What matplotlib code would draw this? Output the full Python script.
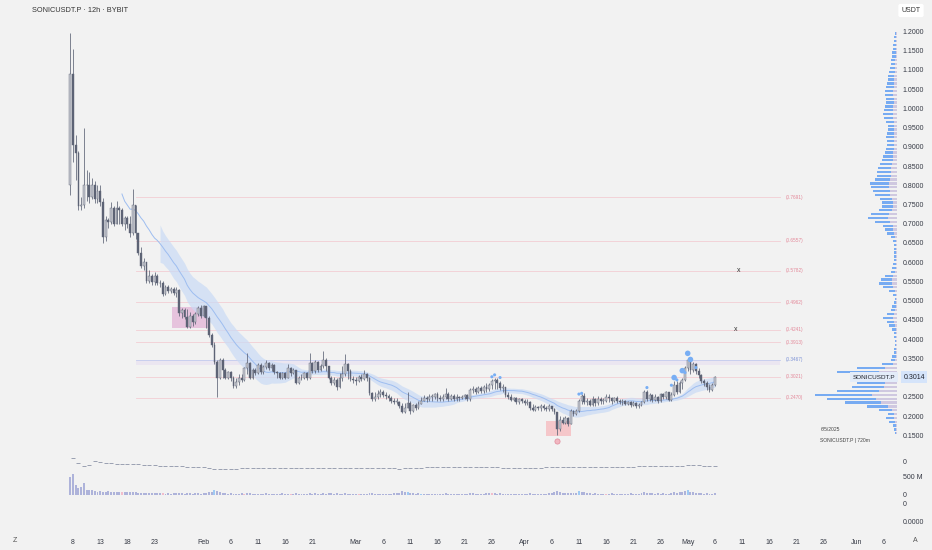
import numpy as np
import pandas as pd
import matplotlib
matplotlib.use("Agg")
import matplotlib.pyplot as plt
from matplotlib.patches import Rectangle

plt.rcParams['font.family'] = ['Liberation Sans', 'DejaVu Sans']

# ---------------- data ----------------
title_text = "SONICUSDT.P · 12h · BYBIT"
start_time = "2025-01-07 12:00"
first_open = 0.80

closes = [
    1.09, 0.905, 0.885, 0.745, 0.75, 0.80, 0.80, 0.77, 0.80, 0.765,
    0.785, 0.757, 0.665, 0.71, 0.705, 0.74, 0.70, 0.74, 0.735, 0.70,
    0.715, 0.70, 0.676, 0.749, 0.676, 0.624, 0.59, 0.60, 0.55, 0.565,
    0.548, 0.565, 0.545, 0.545, 0.518, 0.535, 0.525, 0.53, 0.52, 0.528,
    0.468, 0.476, 0.458, 0.432, 0.46, 0.445, 0.465, 0.48, 0.46, 0.485,
    0.455, 0.41, 0.385, 0.34, 0.30, 0.345, 0.32, 0.30, 0.315, 0.298,
    0.278, 0.288, 0.30, 0.294, 0.324, 0.337, 0.298, 0.32, 0.311, 0.333,
    0.315, 0.328, 0.337, 0.325, 0.333, 0.315, 0.311, 0.298, 0.311, 0.30,
    0.324, 0.311, 0.319, 0.287, 0.298, 0.30, 0.311, 0.298, 0.337, 0.318,
    0.34, 0.32, 0.33, 0.346, 0.33, 0.30, 0.285, 0.294, 0.275, 0.30,
    0.31, 0.335, 0.317, 0.297, 0.293, 0.29, 0.302, 0.295, 0.31, 0.298,
    0.259, 0.243, 0.25, 0.258, 0.262, 0.255, 0.252, 0.246, 0.24, 0.237,
    0.237, 0.225, 0.21, 0.222, 0.233, 0.212, 0.228, 0.22, 0.232, 0.24,
    0.246, 0.243, 0.25, 0.25, 0.256, 0.248, 0.244, 0.25, 0.258, 0.245,
    0.252, 0.245, 0.25, 0.246, 0.25, 0.254, 0.244, 0.268, 0.27, 0.262,
    0.272, 0.265, 0.276, 0.27, 0.281, 0.29, 0.294, 0.285, 0.272, 0.275,
    0.255, 0.25, 0.242, 0.246, 0.237, 0.244, 0.24, 0.233, 0.236, 0.22,
    0.216, 0.224, 0.22, 0.226, 0.222, 0.218, 0.226, 0.219, 0.21, 0.165,
    0.19, 0.183, 0.195, 0.18, 0.212, 0.205, 0.214, 0.24, 0.252, 0.236,
    0.24, 0.228, 0.244, 0.233, 0.245, 0.24, 0.24, 0.25, 0.246, 0.238,
    0.246, 0.24, 0.236, 0.24, 0.232, 0.236, 0.229, 0.233, 0.226, 0.228,
    0.237, 0.263, 0.245, 0.255, 0.242, 0.25, 0.238, 0.256, 0.25, 0.262,
    0.242, 0.255, 0.281, 0.262, 0.286, 0.294, 0.324, 0.346, 0.32, 0.335,
    0.318, 0.307, 0.29, 0.285, 0.275, 0.268, 0.28, 0.3014,
]
highs = [
    1.195, 1.154, 0.93, 0.89, 0.77, 0.95, 0.84, 0.835, 0.82, 0.81,
    0.80, 0.80, 0.767, 0.72, 0.715, 0.757, 0.745, 0.76, 0.745, 0.74,
    0.72, 0.72, 0.72, 0.79, 0.75, 0.676, 0.64, 0.61, 0.60, 0.58,
    0.57, 0.575, 0.57, 0.555, 0.55, 0.54, 0.54, 0.535, 0.535, 0.535,
    0.53, 0.48, 0.48, 0.478, 0.47, 0.465, 0.47, 0.485, 0.488, 0.49,
    0.485, 0.46, 0.416, 0.392, 0.346, 0.352, 0.35, 0.325, 0.318, 0.316,
    0.303, 0.30, 0.308, 0.31, 0.328, 0.363, 0.34, 0.325, 0.325, 0.338,
    0.337, 0.332, 0.346, 0.34, 0.338, 0.336, 0.318, 0.315, 0.315, 0.315,
    0.335, 0.328, 0.325, 0.32, 0.305, 0.31, 0.315, 0.315, 0.363, 0.34,
    0.345, 0.343, 0.336, 0.369, 0.35, 0.33, 0.305, 0.302, 0.298, 0.312,
    0.33, 0.361, 0.338, 0.322, 0.305, 0.302, 0.306, 0.31, 0.32, 0.312,
    0.302, 0.262, 0.262, 0.268, 0.27, 0.268, 0.262, 0.258, 0.252, 0.248,
    0.248, 0.24, 0.234, 0.235, 0.263, 0.24, 0.232, 0.235, 0.24, 0.25,
    0.255, 0.252, 0.256, 0.258, 0.26, 0.262, 0.255, 0.258, 0.272, 0.262,
    0.258, 0.256, 0.256, 0.253, 0.255, 0.258, 0.258, 0.272, 0.278, 0.275,
    0.278, 0.278, 0.28, 0.285, 0.285, 0.295, 0.30, 0.298, 0.292, 0.283,
    0.276, 0.262, 0.258, 0.25, 0.25, 0.248, 0.246, 0.245, 0.245, 0.24,
    0.232, 0.228, 0.226, 0.23, 0.23, 0.226, 0.23, 0.227, 0.22, 0.21,
    0.20, 0.198, 0.20, 0.198, 0.218, 0.215, 0.218, 0.245, 0.258, 0.26,
    0.248, 0.244, 0.252, 0.248, 0.252, 0.25, 0.248, 0.258, 0.256, 0.25,
    0.25, 0.252, 0.245, 0.244, 0.242, 0.24, 0.238, 0.238, 0.236, 0.235,
    0.24, 0.268, 0.268, 0.26, 0.258, 0.256, 0.252, 0.26, 0.26, 0.266,
    0.252, 0.262, 0.29, 0.29, 0.29, 0.30, 0.33, 0.352, 0.34, 0.34,
    0.338, 0.325, 0.31, 0.295, 0.29, 0.282, 0.285, 0.305,
]
lows = [
    0.775, 0.86, 0.815, 0.735, 0.735, 0.74, 0.76, 0.755, 0.765, 0.755,
    0.755, 0.745, 0.65, 0.655, 0.69, 0.70, 0.695, 0.70, 0.70, 0.695,
    0.685, 0.69, 0.665, 0.67, 0.66, 0.62, 0.585, 0.58, 0.545, 0.545,
    0.54, 0.54, 0.54, 0.535, 0.512, 0.515, 0.52, 0.52, 0.515, 0.51,
    0.46, 0.455, 0.452, 0.43, 0.43, 0.435, 0.44, 0.46, 0.455, 0.458,
    0.43, 0.405, 0.38, 0.335, 0.25, 0.295, 0.30, 0.295, 0.295, 0.292,
    0.272, 0.272, 0.28, 0.288, 0.29, 0.31, 0.295, 0.295, 0.306, 0.308,
    0.31, 0.31, 0.322, 0.32, 0.318, 0.31, 0.30, 0.295, 0.295, 0.296,
    0.298, 0.305, 0.308, 0.283, 0.283, 0.294, 0.296, 0.294, 0.295, 0.313,
    0.312, 0.315, 0.318, 0.325, 0.318, 0.295, 0.28, 0.28, 0.268, 0.272,
    0.29, 0.305, 0.295, 0.292, 0.285, 0.28, 0.288, 0.29, 0.293, 0.29,
    0.255, 0.238, 0.24, 0.245, 0.25, 0.25, 0.245, 0.24, 0.234, 0.232,
    0.23, 0.22, 0.207, 0.208, 0.22, 0.205, 0.21, 0.215, 0.218, 0.23,
    0.238, 0.236, 0.24, 0.24, 0.245, 0.24, 0.238, 0.24, 0.245, 0.24,
    0.242, 0.24, 0.24, 0.24, 0.243, 0.245, 0.24, 0.24, 0.26, 0.258,
    0.26, 0.26, 0.26, 0.262, 0.266, 0.27, 0.27, 0.27, 0.268, 0.262,
    0.25, 0.245, 0.238, 0.238, 0.232, 0.232, 0.234, 0.228, 0.228, 0.215,
    0.212, 0.214, 0.215, 0.214, 0.216, 0.212, 0.214, 0.212, 0.204, 0.151,
    0.162, 0.178, 0.18, 0.175, 0.178, 0.20, 0.202, 0.21, 0.232, 0.23,
    0.228, 0.225, 0.226, 0.226, 0.228, 0.232, 0.232, 0.236, 0.236, 0.232,
    0.236, 0.233, 0.232, 0.228, 0.228, 0.228, 0.224, 0.225, 0.222, 0.222,
    0.225, 0.235, 0.24, 0.24, 0.236, 0.238, 0.235, 0.236, 0.244, 0.245,
    0.238, 0.238, 0.252, 0.258, 0.26, 0.27, 0.29, 0.318, 0.31, 0.315,
    0.31, 0.30, 0.285, 0.277, 0.268, 0.262, 0.265, 0.278,
]
volumes_m = [
    510, 575, 280, 190, 230, 325, 140, 130, 130, 100,
    95, 110, 90, 85, 105, 95, 80, 85, 75, 80,
    70, 75, 85, 70, 80, 60, 65, 55, 60, 50,
    55, 45, 50, 45, 55, 40, 45, 40, 50, 45,
    55, 45, 40, 50, 45, 40, 45, 50, 40, 45,
    60, 75, 90, 140, 120, 70, 55, 50, 40, 45,
    40, 35, 40, 45, 40, 55, 45, 40, 35, 40,
    35, 40, 45, 40, 35, 40, 35, 40, 45, 40,
    35, 40, 35, 45, 40, 35, 40, 35, 50, 40,
    45, 40, 35, 55, 40, 45, 50, 40, 45, 35,
    40, 45, 40, 35, 40, 35, 40, 35, 40, 35,
    55, 45, 40, 35, 40, 35, 40, 35, 40, 45,
    45, 60, 110, 70, 80, 55, 45, 40, 50, 40,
    35, 40, 35, 40, 35, 40, 35, 40, 45, 35,
    40, 35, 40, 35, 40, 35, 40, 50, 45, 40,
    40, 35, 40, 45, 60, 55, 50, 40, 45, 40,
    40, 35, 40, 35, 40, 35, 40, 35, 40, 45,
    35, 40, 35, 40, 35, 40, 45, 50, 70, 110,
    90, 60, 55, 45, 50, 45, 55, 110, 90, 70,
    55, 45, 40, 45, 40, 35, 40, 35, 40, 45,
    40, 35, 40, 35, 40, 35, 45, 40, 35, 40,
    45, 90, 60, 50, 45, 40, 45, 40, 45, 40,
    40, 55, 70, 60, 80, 75, 100, 140, 90, 70,
    60, 50, 45, 40, 45, 40, 40, 45,
]
vol_pink_idx = [19, 34, 64, 81, 106, 155, 197]
vol_blue_idx = [53, 124, 129, 187, 227]

# daily oscillator (top sub-pane)
osc_start = "2025-01-08"
osc_daily = [
    3, -2, -4.5, -3.5, 0, -0.5, -1.5, -2, -3.3, -3,
    -3, -3, -3, -3.5, -3.5, -4, -4.5, -4.7, -4.7, -5,
    -5, -5.5, -5.5, -5.5, -6, -6.5, -8, -7.8, -7.7, -7.5,
    -7.5, -7.4, -7.4, -7.3, -7.3, -7.2, -7.2, -7.3, -7.2, -7.1,
    -7, -7, -7.1, -7, -7, -6.9, -6.9, -7, -6.8, -6.8,
    -6.8, -6.7, -6.6, -6.7, -6.8, -6.9, -6.8, -6.9, -7.1, -7.3,
    -7.5, -7.4, -7.2, -6.6, -6.5, -6.4, -6.4, -6.4, -6.3, -6.3,
    -6.3, -6.3, -6.2, -6.2, -6.3, -6.4, -6.3, -6.3, -6.4, -6.5,
    -6.5, -6.5, -6.5, -6.5, -6.5, -6.5, -6.5, -6.4, -6.3, -6.0,
    -5.6, -5.6, -5.5, -5.6, -5.6, -5.7, -5.8, -5.8, -5.8, -5.7,
    -5.7, -5.6, -5.5, -5.5, -5.4, -5.3, -5.2, -5.0, -4.9, -4.8,
    -4.7, -4.6, -4.5, -4.3, -4.2, -4.4, -4.5, -4.6, -4.6,
]

# signal dots above candles
dot_idx = [155, 156, 158, 187, 188, 212, 221, 222, 223, 225, 226, 227, 228, 230]
dot_price = [0.302, 0.307, 0.30, 0.257, 0.259, 0.274, 0.28, 0.30, 0.294,
             0.318, 0.313, 0.363, 0.347, 0.326]
dot_big = [0, 0, 0, 0, 0, 0, 0, 1, 0, 1, 0, 1, 1, 0]

# fib levels
fib_levels = [0.7691, 0.6557, 0.5782, 0.4962, 0.4241, 0.3913, 0.3467, 0.3021, 0.2470]
fib_blue = [0.3467]
fib_start = "2025-01-19 12:00"
fib_end = "2025-05-18 00:00"
fib_zone = (0.333, 0.3467)
x_marks = [("2025-05-10 09:00", 0.5782), ("2025-05-09 21:00", 0.4241)]

# highlight boxes (time range, price range)
box_top = ("2025-01-26 03:00", "2025-02-01 21:00", 0.428, 0.484)
box_bottom = ("2025-04-04 23:00", "2025-04-09 12:00", 0.148, 0.187)
pivot_idx = 179

# volume profile (bins of 0.01 from 0.15 upward)
profile_start = 0.15
profile_step = 0.01
profile_vol = [
    2, 3, 4, 8, 11,
    9, 18, 30, 52, 70, 82, 60, 45, 40, 32,
    45, 60, 40, 15, 6, 5, 3, 3, 2, 2,
    3, 3, 5, 8, 10, 14, 10, 6, 5, 3,
    2, 4, 8, 14, 18, 16, 12, 6, 5, 4,
    3, 3, 3, 3, 3, 4, 6, 10, 12, 14,
    22, 29, 26, 18, 15, 15, 17, 22, 24, 26,
    27, 22, 20, 20, 19, 17, 15, 14, 12, 11,
    10, 10, 11, 10, 9, 9, 11, 13, 14, 13,
    12, 11, 11, 12, 12, 11, 10, 9, 9, 8,
    7, 6, 6, 5, 5, 4, 4, 3, 3, 2,
]
sell_share = 0.3

price_ticks = [0.15, 0.20, 0.25, 0.35, 0.40, 0.45, 0.50, 0.55, 0.60, 0.65, 0.70,
               0.75, 0.80, 0.85, 0.90, 0.95, 1.00, 1.05, 1.10, 1.15, 1.20]
time_ticks = ["2025-01-08", "2025-01-13", "2025-01-18", "2025-01-23", "2025-02-01",
              "2025-02-06", "2025-02-11", "2025-02-16", "2025-02-21", "2025-03-01",
              "2025-03-06", "2025-03-11", "2025-03-16", "2025-03-21", "2025-03-26",
              "2025-04-01", "2025-04-06", "2025-04-11", "2025-04-16", "2025-04-21",
              "2025-04-26", "2025-05-01", "2025-05-06", "2025-05-11", "2025-05-16",
              "2025-05-21", "2025-05-26", "2025-06-01", "2025-06-06"]
info_date = "6/5/2025"
info_sym = "SONICUSDT.P | 720m"

# ---------------- helpers ----------------
W, H = 932, 550
BG = "#f2f2f2"
origin = pd.Timestamp("2025-01-08")


def dnum(s):
    return (pd.Timestamp(s) - origin) / pd.Timedelta(days=1)


def fbox(x0, y0, x1, y1):
    return [x0 / W, 1 - y1 / H, (x1 - x0) / W, (y1 - y0) / H]


closes_a = np.array(closes)
highs_a = np.array(highs)
lows_a = np.array(lows)
opens_a = np.concatenate([[first_open], closes_a[:-1]])
dates = pd.date_range(start_time, periods=len(closes), freq="12h")
xs = np.array((dates - origin) / pd.Timedelta(days=1), dtype=float)

XL = (-13.42, 151.47)
YL = (0.1116, 1.2299)

fig = plt.figure(figsize=(W / 100, H / 100), dpi=100)
fig.patch.set_facecolor(BG)

# ---------------- main price pane ----------------
ax = fig.add_axes(fbox(0, 20, 897, 450))
ax.set_facecolor(BG)
ax.set_xlim(*XL)
ax.set_ylim(*YL)
for s in ax.spines.values():
    s.set_visible(False)

# fib lines
fx0, fx1 = dnum(fib_start), dnum(fib_end)
ax.fill_between([fx0, fx1], fib_zone[0], fib_zone[1], color="#ebe6f1", lw=0, zorder=1)
for lv in fib_levels:
    blue = lv in fib_blue
    ax.plot([fx0, fx1], [lv, lv], color="#c3cbee" if blue else "#f3cdd4",
            lw=0.6, zorder=1.2)
    ax.annotate(f"({lv:.4f})", xy=(fx1, lv), xytext=(4, 0), textcoords="offset points",
                ha="left", va="center", fontsize=3.4,
                color="#7d92d6" if blue else "#e4899a")
for d, p in x_marks:
    ax.text(dnum(d), p, "x", fontsize=5, ha="center", va="center", color="#333333")

# highlight boxes
t0, t1, p0, p1 = box_top
ax.add_patch(Rectangle((dnum(t0), p0), dnum(t1) - dnum(t0), p1 - p0,
                       facecolor="#e3b4d6", alpha=0.75, lw=0, zorder=1.5))
t0, t1, p0, p1 = box_bottom
ax.add_patch(Rectangle((dnum(t0), p0), dnum(t1) - dnum(t0), p1 - p0,
                       facecolor="#f6c3c6", alpha=0.9, lw=0, zorder=1.5))

# moving average band
cs = pd.Series(closes_a)
sma = cs.rolling(20).mean().to_numpy()
sd = cs.rolling(34).std().to_numpy()
k = 0.42
up = sma + k * sd
lo = sma - k * sd
ax.fill_between(xs, lo, up, where=~np.isnan(up), color="#c9dbf5", alpha=0.7, lw=0, zorder=2)
ax.plot(xs, sma, color="#9dbdf0", lw=0.7, zorder=2.2)

# candles
DARK = "#5d6375"
is_up = closes_a >= opens_a
face = np.where(is_up, "#c6c9d0", DARK)
ax.vlines(xs, lows_a, highs_a, colors=DARK, lw=0.55, zorder=3)
bottoms = np.minimum(opens_a, closes_a)
heights = np.maximum(np.abs(closes_a - opens_a), 0.002)
ax.bar(xs, heights, bottom=bottoms, width=0.34, color=face, edgecolor=DARK, lw=0.3, zorder=3.2)

# signal dots
dx = xs[dot_idx]
sizes = [16 if b else 5 for b in dot_big]
ax.scatter(dx, dot_price, s=sizes, color="#78aef4", edgecolors="none", zorder=4)

# pivot marker under the low
ax.scatter([xs[pivot_idx]], [lows_a[pivot_idx] - 0.016], s=14, facecolor="#f1b7c1",
           edgecolor="#e0899a", lw=0.5, zorder=4)

# price axis
ax.yaxis.tick_right()
ax.set_yticks(price_ticks)
ax.set_yticklabels([f"{t:.4f}" for t in price_ticks])
ax.tick_params(axis="y", length=0, pad=4.2, labelsize=5, labelcolor="#363a45")
ax.set_xticks([])

# last price label
last = closes_a[-1]
ax.annotate(f"{last:.4f}", xy=(1, last), xycoords=("axes fraction", "data"),
            xytext=(4.6, 0), textcoords="offset points", ha="left", va="center",
            fontsize=5, color="#20242e",
            bbox=dict(boxstyle="square,pad=0.3", fc="#d5e4fa", ec="none"), zorder=6)

# info text
ax.text(dnum("2025-05-25 12:00"), 0.164, info_date, fontsize=3.6, color="#444444",
        ha="left", va="center")
ax.text(dnum("2025-05-25 06:00"), 0.136, info_sym, fontsize=3.6, color="#444444",
        ha="left", va="center")

# ---------------- volume profile ----------------
axp = fig.add_axes(fbox(810, 20, 897, 450))
axp.set_ylim(*YL)
axp.set_xlim(87, 0)
axp.axis("off")
pv = np.array(profile_vol, dtype=float)
py = profile_start + profile_step * (np.arange(len(pv)) + 0.5)
axp.barh(py, pv, height=profile_step * 0.6, color="#6aa4f2", alpha=0.9, lw=0)
axp.barh(py, pv * sell_share, height=profile_step * 0.6, color="#eed3db", alpha=0.75, lw=0)
axp.annotate("SONICUSDT.P", xy=(0, last), xytext=(-1.2, 0), textcoords="offset points",
             ha="right", va="center", fontsize=4.6, color="#20242e",
             bbox=dict(boxstyle="square,pad=0.35", fc="#e3ecf9", ec="none"), zorder=6)

# ---------------- oscillator pane ----------------
axA = fig.add_axes(fbox(0, 450, 897, 472))
axA.set_facecolor("none")
axA.set_xlim(*XL)
axA.set_ylim(-11, 11)
for s in axA.spines.values():
    s.set_visible(False)
od = dnum(osc_start) + np.arange(len(osc_daily))
axA.plot(od, osc_daily, ls="none", marker="_", ms=2.4, mew=0.7, color="#9aa0b2")
axA.yaxis.tick_right()
axA.set_yticks([0])
axA.set_yticklabels(["0"])
axA.tick_params(axis="y", length=0, pad=4.2, labelsize=5, labelcolor="#363a45")
axA.set_xticks([])

# ---------------- volume pane ----------------
axB = fig.add_axes(fbox(0, 473, 897, 497))
axB.set_facecolor("none")
axB.set_xlim(*XL)
axB.set_ylim(-55.6, 611)
for s in axB.spines.values():
    s.set_visible(False)
vcols = ["#aeb3da"] * len(volumes_m)
for i in vol_pink_idx:
    vcols[i] = "#f2bdcb"
for i in vol_blue_idx:
    vcols[i] = "#9fcaf3"
axB.bar(xs, volumes_m, width=0.36, color=vcols, lw=0)
axB.yaxis.tick_right()
axB.set_yticks([0, 500])
axB.set_yticklabels(["0", "500 M"])
axB.tick_params(axis="y", length=0, pad=4.2, labelsize=5, labelcolor="#363a45")
axB.set_xticks([])

# ---------------- empty panes + time axis ----------------
axD = fig.add_axes(fbox(0, 498, 897, 532))
axD.set_facecolor("none")
axD.set_xlim(*XL)
axD.set_ylim(0, 1)
for s in axD.spines.values():
    s.set_visible(False)
axD.set_yticks([])
tt = [dnum(t) for t in time_ticks]
tl = [pd.Timestamp(t).strftime("%b") if pd.Timestamp(t).day == 1 else str(pd.Timestamp(t).day)
      for t in time_ticks]
axD.set_xticks(tt)
axD.set_xticklabels(tl)
axD.tick_params(axis="x", length=0, pad=5.2, labelsize=5, labelcolor="#363a45")

fig.text(903 / W, 1 - 504 / H, "0", fontsize=5, color="#363a45", ha="left", va="center")
fig.text(903 / W, 1 - 523 / H, "0.0000", fontsize=5, color="#363a45", ha="left", va="center")
fig.text(15 / W, 1 - 541 / H, "Z", fontsize=5, color="#555555", ha="center", va="center")
fig.text(915 / W, 1 - 541 / H, "A", fontsize=5, color="#555555", ha="center", va="center")

# title + unit box
fig.text(32 / W, 1 - 10 / H, title_text, fontsize=5.3, color="#333333", ha="left", va="center")
fig.text(911 / W, 1 - 10.5 / H, "USDT", fontsize=5, color="#333333", ha="center", va="center",
         bbox=dict(boxstyle="round,pad=0.45,rounding_size=0.3", fc="white", ec="none"))

fig.savefig("out.png", dpi=100, facecolor=BG)
